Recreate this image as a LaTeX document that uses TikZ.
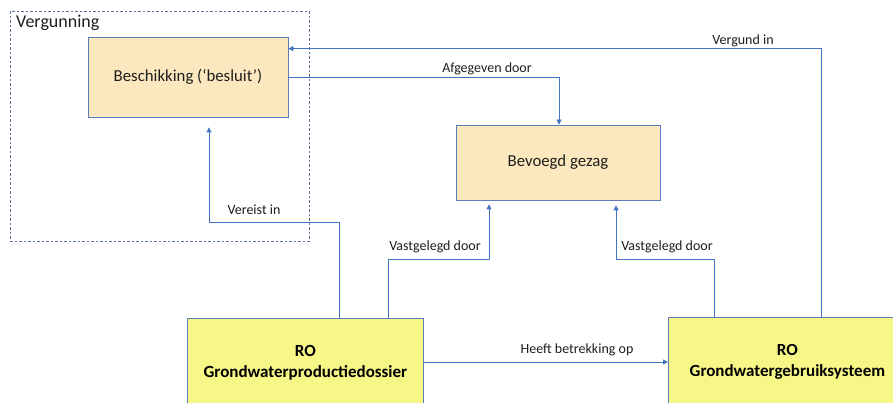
\documentclass[tikz,border=0pt]{standalone}
\usepackage{fontspec}
\setmainfont{Carlito}
\usetikzlibrary{arrows.meta,calc}
\definecolor{lineblue}{HTML}{4472C4}
\definecolor{boxedge}{HTML}{5B7DB8}
\definecolor{peach}{HTML}{FCE8BE}
\definecolor{yel}{HTML}{F7F788}
\definecolor{dashc}{HTML}{5A7394}
\definecolor{txt}{HTML}{1E1E1E}
\tikzset{
  entity/.style={draw=boxedge, line width=0.8pt, fill=peach, text=txt, font=\fontsize{16.8}{19}\selectfont, align=center, inner sep=0pt},
  robox/.style={draw=boxedge, line width=0.8pt, fill=yel, text=black, font=\fontsize{17}{21}\selectfont\bfseries, align=center, inner sep=0pt},
  conn/.style={draw=lineblue, line width=0.8pt, -{Triangle[length=5pt,width=5pt]}},
  lbl/.style={text=txt, font=\fontsize{14}{16}\selectfont, inner sep=0pt},
  group/.style={draw=dashc, line width=0.7pt, dash pattern=on 2.5pt off 2pt}
}
\begin{document}
\begin{tikzpicture}[x=1pt,y=-1pt]
\useasboundingbox (0,0) rectangle (893,403);
\clip (0,0) rectangle (893,403);
\fill[white] (0,0) rectangle (893,403);
% group
\node[group, minimum width=299pt, minimum height=230pt, anchor=north west, inner sep=0pt] (verg) at (10,11) {};
\node[font=\fontsize{18}{20}\selectfont, text=txt, anchor=west, inner sep=0pt] (vergl) at (16,23) {Vergunning};
% nodes
\node[entity, minimum width=200pt, minimum height=80pt] (besch) at (188,77) {Beschikking (‘besluit’)};
\node[entity, minimum width=204pt, minimum height=75pt] (bev) at (558,162.5) {Bevoegd gezag};
\node[robox, minimum width=236pt, minimum height=88pt, anchor=north west] (gpd) at (187,318) {RO\\Grondwaterproductiedossier};
\node[robox, minimum width=238pt, minimum height=88pt, anchor=north west] (ggs) at (668,317) {RO\\Grondwatergebruiksysteem};
% connectors
\coordinate (vergin) at ($(besch.north east)+(0,12)$);
\draw[conn] (ggs.north -| 821,0) |- (vergin);
\node[lbl] (lv) at (743,41) {Vergund in};
\draw[conn] (besch.east) -| (bev.north -| 559,0);
\node[lbl] (la) at (487,69) {Afgegeven door};
\draw[conn, shorten >=5pt] (ggs.north -| 714,0) |- (616,259) -- (bev.south -| 616,0);
\node[lbl] (lvr) at (667,247) {Vastgelegd door};
\draw[conn, shorten >=4pt] (gpd.north -| 388,0) |- (489,259) -- (bev.south -| 489,0);
\node[lbl] (lvl) at (435,247) {Vastgelegd door};
\draw[conn, shorten >=10pt] (gpd.north -| 339,0) |- (209,222) -- (besch.south -| 209,0);
\node[lbl] (lve) at (254,210) {Vereist in};
\draw[conn] (gpd.east |- 0,362) -- (ggs.west |- 0,362);
\node[lbl] (lh) at (577,350) {Heeft betrekking op};
\end{tikzpicture}
\end{document}
